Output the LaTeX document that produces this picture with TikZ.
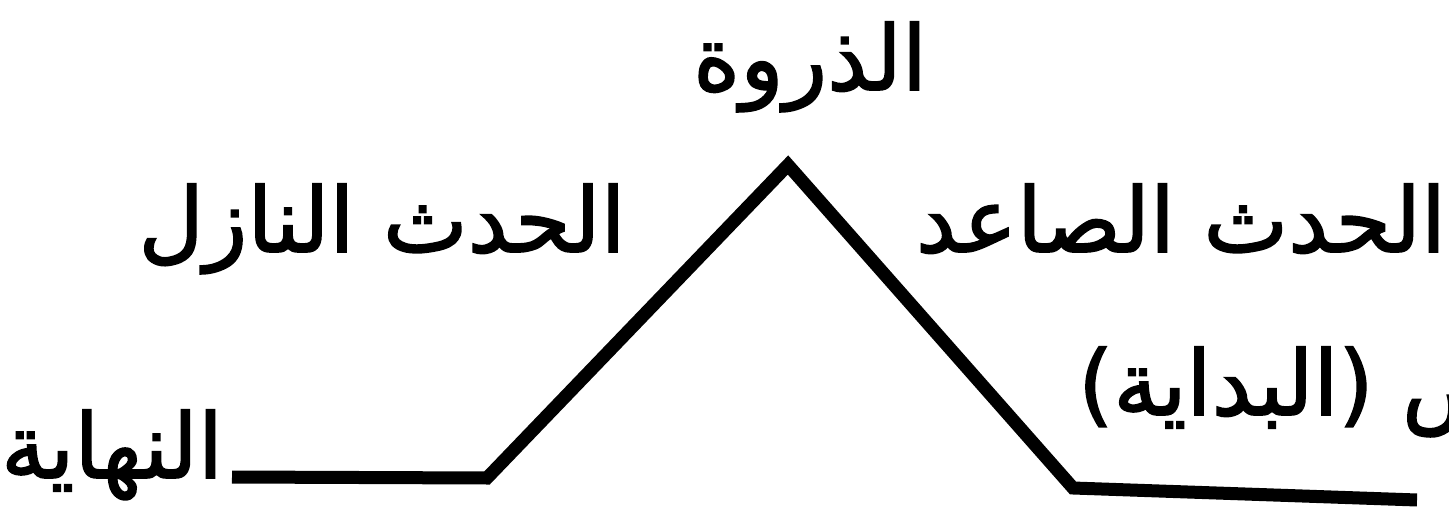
\documentclass[tikz,border=0pt]{standalone}
\usepackage{fontspec}
\TeXXeTstate=1
\newfontfamily\arabicfont[Script=Arabic,FakeBold=1.8]{DejaVu Sans}
\begin{document}
\begin{tikzpicture}[x=1pt,y=-1pt,
  lbl/.style={inner sep=0pt,anchor=base,font=\arabicfont\fontsize{90}{100}\selectfont},
  plotline/.style={line width=13pt,line join=miter,line cap=butt}]
\useasboundingbox (0,0) rectangle (1449,516);
\fill[white] (0,0) rectangle (1449,516);
\begin{scope}
\clip (0,0) rectangle (1449,516);
\coordinate (endL) at (232,477);
\coordinate (cornerL) at (487,478);
\coordinate (peak) at (788,165);
\coordinate (cornerR) at (1073,488);
\coordinate (endR) at (1417,500);
\draw[plotline] (endL) -- (cornerL) -- (peak) -- (cornerR) -- (endR);
\node[lbl] (climax) at (810,90) {\beginR الذروة\endR};
\node[lbl] (falling) at (382,252) {\beginR الحدث النازل\endR};
\node[lbl] (rising) at (1181,252) {\beginR الحدث الصاعد\endR};
\node[lbl] (ending) at (112,478) {\beginR النهاية\endR};
\node[lbl,anchor=base west] (start) at (1078,415) {\beginR العرض (البداية)\endR};
\end{scope}
\end{tikzpicture}
\end{document}
